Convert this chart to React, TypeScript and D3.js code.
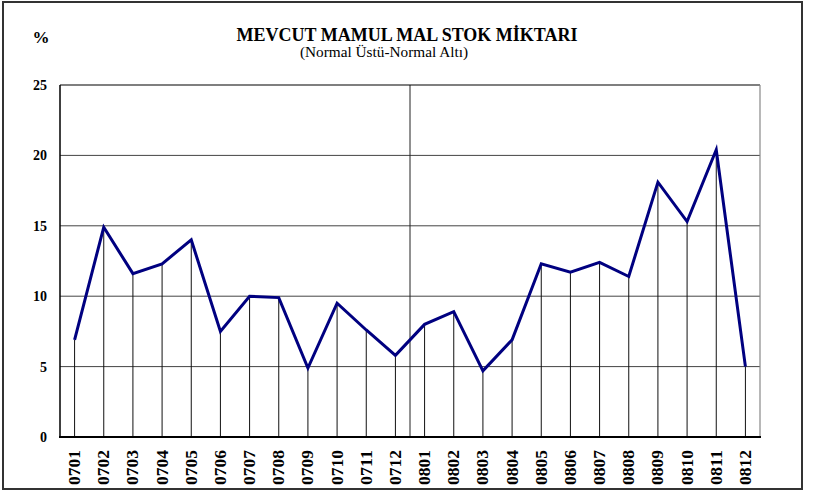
import React, {useEffect, useRef} from 'react';
import * as d3 from 'd3';

const months = ['0701','0702','0703','0704','0705','0706','0707','0708','0709','0710','0711','0712',
  '0801','0802','0803','0804','0805','0806','0807','0808','0809','0810','0811','0812'];
const stock = [6.9,14.9,11.6,12.3,14.0,7.5,10.0,9.9,4.9,9.5,7.6,5.8,
  8.0,8.9,4.7,6.9,12.3,11.7,12.4,11.4,18.1,15.3,20.4,5.0];
const yTicks = [0,5,10,15,20,25];
const title = 'MEVCUT MAMUL MAL STOK MİKTARI';
const subtitle = '(Normal Üstü-Normal Altı)';

const W = 816, H = 491;
const font = '"Liberation Serif", "Times New Roman", serif';

export default function App() {
  const svgRef = useRef<SVGSVGElement>(null);

  useEffect(() => {
    const svg = d3.select(svgRef.current);
    svg.selectAll('*').remove();

    const x = d3.scaleBand<string>().domain(months).range([60, 760]);
    const y = d3.scaleLinear().domain([0, 25]).range([437, 85]);
    const cx = (m: string) => (x(m) as number) + x.bandwidth() / 2;

    // outer frame
    svg.append('rect').attr('x', 3).attr('y', 2).attr('width', 799).attr('height', 487)
      .attr('fill', 'white').attr('stroke', '#333').attr('stroke-width', 2);

    // titles
    svg.append('text').attr('x', 407).attr('y', 41).attr('text-anchor', 'middle')
      .attr('font-family', font).attr('font-weight', 'bold').attr('font-size', 18)
      .attr('textLength', 341).attr('lengthAdjust', 'spacingAndGlyphs').text(title);
    svg.append('text').attr('x', 384).attr('y', 57).attr('text-anchor', 'middle')
      .attr('font-family', font).attr('font-size', 15)
      .attr('textLength', 168).attr('lengthAdjust', 'spacingAndGlyphs').text(subtitle);
    svg.append('text').attr('x', 41).attr('y', 43).attr('text-anchor', 'middle')
      .attr('font-family', font).attr('font-weight', 'bold').attr('font-size', 17).text('%');

    // horizontal grid
    svg.append('g').selectAll('line').data(yTicks.filter(t => t > 0 && t < 25)).join('line')
      .attr('x1', 60).attr('x2', 760).attr('y1', d => y(d)).attr('y2', d => y(d))
      .attr('stroke', '#444').attr('stroke-width', 1);

    // major vertical grid (year split)
    svg.append('line').attr('x1', x(months[12]) as number).attr('x2', x(months[12]) as number)
      .attr('y1', y(25)).attr('y2', y(0)).attr('stroke', '#222').attr('stroke-width', 1);

    // plot frame
    svg.append('line').attr('x1', 60).attr('x2', 760).attr('y1', y(25)).attr('y2', y(25))
      .attr('stroke', '#000').attr('stroke-width', 1.2);
    svg.append('line').attr('x1', 760).attr('x2', 760).attr('y1', y(25)).attr('y2', y(0))
      .attr('stroke', '#888').attr('stroke-width', 1.2);
    svg.append('line').attr('x1', 60).attr('x2', 60).attr('y1', y(25)).attr('y2', y(0))
      .attr('stroke', '#000').attr('stroke-width', 1.5);

    // drop lines
    svg.append('g').selectAll('line').data(stock).join('line')
      .attr('x1', (d, i) => cx(months[i])).attr('x2', (d, i) => cx(months[i]))
      .attr('y1', d => y(d)).attr('y2', y(0))
      .attr('stroke', '#111').attr('stroke-width', 1);

    // baseline
    svg.append('line').attr('x1', 59).attr('x2', 761).attr('y1', y(0)).attr('y2', y(0))
      .attr('stroke', '#000').attr('stroke-width', 2.2);

    // series line
    const myLine = d3.line<number>().x((d, i) => cx(months[i])).y(d => y(d));
    svg.append('path').datum(stock).attr('d', myLine)
      .attr('fill', 'none').attr('stroke', '#000080').attr('stroke-width', 3)
      .attr('stroke-linejoin', 'miter');

    // y tick labels
    svg.append('g').selectAll('text').data(yTicks).join('text')
      .attr('x', 47).attr('y', d => y(d) + 5).attr('text-anchor', 'end')
      .attr('font-family', font).attr('font-weight', 'bold').attr('font-size', 14)
      .text(d => d);

    // x tick labels
    svg.append('g').selectAll('text').data(months).join('text')
      .attr('transform', m => `translate(${cx(m) + 5.5},450) rotate(-90)`)
      .attr('text-anchor', 'end')
      .attr('font-family', font).attr('font-weight', 'bold').attr('font-size', 16)
      .attr('textLength', 35).attr('lengthAdjust', 'spacingAndGlyphs')
      .text(m => m);
  }, []);

  return (
    <div style={{position: 'absolute', left: 0, top: 0, width: W, height: H}}>
      <svg ref={svgRef} width={W} height={H} style={{display: 'block'}}></svg>
    </div>
  );
}
